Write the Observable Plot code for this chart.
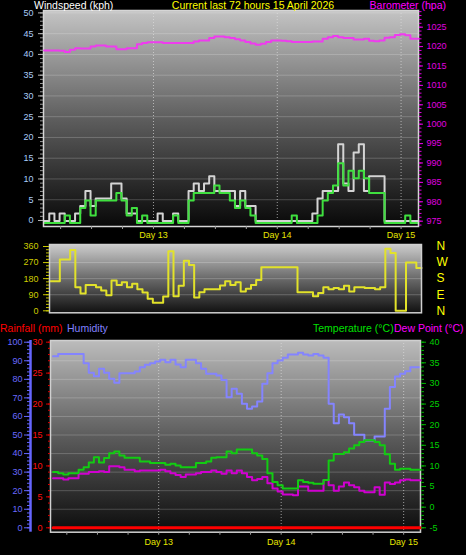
<!DOCTYPE html>
<html><head><meta charset="utf-8">
<script src="https://cdn.jsdelivr.net/npm/d3@7"></script>
<script src="https://cdn.jsdelivr.net/npm/@observablehq/plot@0.6"></script>
<style>
html,body{margin:0;padding:0;background:#000;}
#chart{position:relative;width:466px;height:555px;background:#000;overflow:hidden;font-family:"Liberation Sans",Arial,sans-serif;}
.lbl{position:absolute;white-space:nowrap;font-size:10.5px;line-height:12px;}
</style></head><body><div id="chart"></div>
<script>
// ---------- data ----------
const title = "Current last 72 hours 15 April 2026";
const dayLabels = ["Day 13", "Day 14", "Day 15"];
const dayHours = [21.2, 45.2, 69.2];               // hours since start of the 72 h window
const sixHourTicks = [3.2, 9.2, 15.2, 21.2, 27.2, 33.2, 39.2, 45.2, 51.2, 57.2, 63.2, 69.2];

// wind (kph), hourly samples h0..h72
const windGust = [0,1.8,0,1.8,0,0,1.8,3.6,7.2,3.6, 5.4,5.4,5.4,9,9,5.4,1.8,1.8,0,0,
  0,0,1.8,0,0,1.8,0,0,7.2,9, 7.2,9,10.8,7.2,7.2,7.2,7.2,3.6,7.2,3.6,
  3.6,0,0,0,0,0,0,0,0,0, 0,0,1.8,5.4,7.2,7.2,7.2,18.5,9,7.2,
  16.5,18.5,7.2,10.8,10.8,10.8,0,0,0,0, 0,0,0];
const windAvg = [0,0,0,0,1.8,0,0,3.6,5.4,1.8, 5.4,5.4,5.4,5.4,7.2,5.4,1.8,3.6,0,1.8,
  0,0,0,0,0,1.8,0,0,5.4,7.2, 7.2,7.2,7.2,9,7.2,7.2,5.4,3.6,5.4,3.6,
  1.8,0,0,0,0,0,0,0,1.8,0, 0,0,0,1.8,5.4,7.2,9,14.4,9,12.6,
  10.8,12.6,10.8,7.2,7.2,7.2,0,0,0,0, 1.8,0,0];
// barometer (hPa), hourly h0..h72
const baro = [1019.0,1019.0,1019.0,1018.9,1018.6,1019.2,1019.6,1019.5,1019.5,1020.0,
  1020.3,1020.3,1020.0,1020.0,1019.3,1019.3,1019.6,1019.6,1020.6,1020.9,
  1021.1,1021.1,1021.1,1020.9,1020.9,1020.9,1020.9,1020.9,1020.9,1021.3,
  1021.6,1021.6,1022.2,1022.6,1022.6,1022.4,1022.2,1021.9,1021.6,1021.2,
  1020.8,1020.5,1020.7,1021.2,1021.6,1021.6,1021.5,1021.4,1021.2,1021.2,
  1021.2,1021.2,1021.3,1021.3,1022.0,1022.4,1022.7,1022.4,1022.2,1022.2,
  1021.8,1021.8,1022.0,1021.5,1021.4,1021.6,1022.3,1022.4,1023.0,1023.2,
  1022.9,1022.0,1022.0];
// wind direction (degrees), hourly h0..h71
const windDir = [166,166,287,287,340,132,97,145,145,132, 113,87,170,145,160,132,152,120,103,67,
  45,45,80,333,82,140,280,257,75,104, 120,120,120,142,166,145,160,108,124,145,
  173,244,244,244,244,244,244,244,104,104, 104,82,99,132,121,127,121,140,108,132,
  132,127,127,121,132,347,323,0,0,270, 270,240];
// humidity (%), temperature and dew point (°C), rainfall (mm): samples at h0.5..h71.5
const humidity = [92.5,93.7,93.7,93.7,93.7,93.7,88.7,83.5,81.7,85.7, 83.5,80.3,78.1,83.3,83.3,83.3,84.2,86.5,87.8,88.7,
  89.6,90.5,89.2,90.5,88,86.5,90.5,90.5,88.7,85.7, 83,83,82,79.7,70.4,74.9,72.2,66.8,64.1,65.4,
  68,77.6,83.3,88.7,90.1,91.6,93.4,93.4,94.3,93.4, 92.8,93.7,92.8,91.6,66.8,56.4,61,59.6,56.4,50.1,
  50.1,47,47,49.2,49.2,64.1,75.8,81.5,83,84.4, 86.5,86.5];
const temperature = [8.5,8.2,7.9,8.2,8.2,9.1,9.7,10.8,12.1,10.8, 11.9,13.1,13.5,12.5,12,12,12,11.1,11.1,10.7,
  10.7,10.7,10.3,10.5,10.1,9.7,9.7,9.7,10.7,10.7, 11.1,12,12.1,12.1,13.5,13.1,14,14,14,13.1,
  12.5,11.7,8.2,6.1,5.3,4.5,4.5,4.5,6.5,6.1, 5.9,5.7,5.7,6.6,11.3,12.9,12.9,13.3,14.2,15,
  15.8,16.2,16.2,15.8,15,12.8,10.5,9.1,9.3,9.3, 9.1,9.1];
const dewPoint = [7.0,7.0,6.7,7.0,7.0,8.1,8.1,8.5,8.5,8.7, 8.5,9.9,9.9,9.7,9.1,9.1,8.7,8.9,8.9,8.9,
  8.9,9.1,8.7,8.2,7.8,7.3,7.9,7.9,8.2,8.5, 8.5,8.9,8.5,8.1,8.9,8.2,8.9,8.2,7.3,6.5,
  6.8,7.3,5.8,4.5,3.8,3.1,3.1,2.9,5.0,5.0, 4.0,4.0,4.0,6.6,5.3,4.0,5.0,6.0,5.3,4.8,
  4.0,3.6,3.6,4.8,3.0,6.0,5.6,6.0,6.5,6.7, 6.5,6.5];
const rainfall = [0,0,0,0,0,0,0,0,0,0, 0,0,0,0,0,0,0,0,0,0, 0,0,0,0,0,0,0,0,0,0,
  0,0,0,0,0,0,0,0,0,0, 0,0,0,0,0,0,0,0,0,0, 0,0,0,0,0,0,0,0,0,0, 0,0,0,0,0,0,0,0,0,0, 0,0];

// tick labels
const windTicks = [0,5,10,15,20,25,30,35,40,45,50];
const baroTicks = [975,980,985,990,995,1000,1005,1010,1015,1020,1025];
const dirTicks = [0,90,180,270,360];
const compass = ["N","E","S","W","N"];
const humTicks = [0,10,20,30,40,50,60,70,80,90,100];
const rainTicks = [0,5,10,15,20,25,30];
const tempTicks = [-5,0,5,10,15,20,25,30,35,40];

// ---------- helpers ----------
const FONT = "'Liberation Sans', Arial, sans-serif";
const chart = document.getElementById("chart");
const W = 466;
function base(h, [ml, mr, mt, mb]) {
  return {width: W, height: h, marginLeft: ml, marginRight: mr, marginTop: mt, marginBottom: mb,
    style: {background: "transparent", fontFamily: FONT, fontSize: "9px", overflow: "visible"}};
}
function place(svg, top) {
  svg.style.position = "absolute"; svg.style.left = "0px"; svg.style.top = top + "px";
  chart.appendChild(svg);
}
function gradient(svg, id, stops) {
  const defs = d3.select(svg).insert("defs", ":first-child");
  const g = defs.append("linearGradient").attr("id", id).attr("x1", 0).attr("y1", 0).attr("x2", 0).attr("y2", 1);
  stops.forEach(([o, c]) => g.append("stop").attr("offset", o).attr("stop-color", c));
}
function label(text, {left, right, center, top, color}) {
  const s = document.createElement("span");
  s.className = "lbl"; s.textContent = text; s.style.color = color; s.style.top = top + "px";
  if (left != null) s.style.left = left + "px";
  if (right != null) s.style.right = right + "px";
  if (center != null) { s.style.left = center + "px"; s.style.transform = "translateX(-50%)"; }
  chart.appendChild(s);
}
const none = () => "";
const plain = d => String(d);
const dayFmt = d => dayLabels[dayHours.indexOf(d)];

// ---------- rows ----------
const x1Domain = [-0.12, 72.58];
const windRows = windGust.map((g, i) => ({h: i, gust: g, avg: windAvg[i], hpa: baro[i]}));
windRows.push({h: x1Domain[1], gust: windGust[72], avg: windAvg[72], hpa: baro[72]});
const dirRows = windDir.map((d, i) => ({h: i, deg: d}));
dirRows.push({h: 72, deg: windDir[71]});
const x3Domain = [0, 72.5];
const r3 = humidity.map((v, i) => ({h: i + 0.5, hum: v, temp: temperature[i], dew: dewPoint[i], mm: rainfall[i]}));
r3.push({h: x3Domain[1], hum: humidity[71], temp: temperature[71], dew: dewPoint[71], mm: rainfall[71]});

// ---------- panel 1 : wind + barometer ----------
const p1a = Plot.plot({...base(240, [43, 48, 10, 14]),
  x: {domain: x1Domain, label: null},
  y: {domain: [-1.45, 50.58], label: null},
  marks: [
    Plot.frame({fill: "url(#bg1)"}),
    Plot.ruleY(windTicks.slice(1), {stroke: "#ffffff", strokeOpacity: 0.2}),
    Plot.ruleX(dayHours, {stroke: "#e0e0e0", strokeOpacity: 0.65, strokeDasharray: "1,2"}),
    Plot.line(windRows, {x: "h", y: "gust", curve: "step-after", stroke: "#d4d4d4", strokeWidth: 2, dy: 0.5}),
    Plot.line(windRows, {x: "h", y: "avg", curve: "step-after", stroke: "#3fe03f", strokeWidth: 2, dy: 2.5}),
    Plot.frame({stroke: "#d6d6d6", strokeWidth: 1.5}),
    Plot.axisY(d3.range(0, 51, 1), {anchor: "left", tickSize: 3, stroke: "#9a9a9a", tickFormat: none, label: null}),
    Plot.axisY(windTicks, {anchor: "left", tickSize: 5, stroke: "#b4b4b4", fill: "#a8ccf8", tickPadding: 5, fontSize: 9, tickFormat: plain, label: null}),
    Plot.axisX(sixHourTicks, {anchor: "bottom", tickSize: 3, stroke: "#a0a0a0", tickFormat: none, label: null}),
    Plot.axisX(dayHours, {anchor: "bottom", tickSize: 0, tickPadding: 5, fill: "#e6e600", tickFormat: dayFmt, fontSize: 9, label: null})
  ]});
gradient(p1a, "bg1", [[0, "#c4c4c4"], [0.5, "#5e5e5e"], [1, "#080808"]]);
place(p1a, 0);

const p1b = Plot.plot({...base(240, [43, 48, 10, 14]),
  x: {domain: x1Domain, axis: null},
  y: {domain: [973.63, 1029.3], label: null},
  marks: [
    Plot.line(windRows, {x: "h", y: "hpa", curve: "step-after", stroke: "#ee3cee", strokeWidth: 2}),
    Plot.axisY(d3.range(974, 1030, 1), {anchor: "right", tickSize: 2.5, stroke: "#e000e0", tickFormat: none, label: null}),
    Plot.axisY(baroTicks, {anchor: "right", tickSize: 4, stroke: "#e000e0", fill: "#e000e0", tickPadding: 4, fontSize: 9, tickFormat: plain, label: null})
  ]});
place(p1b, 0);

// ---------- panel 2 : wind direction ----------
const p2 = Plot.plot({...base(84, [49, 45, 8, 7.7]),
  x: {domain: [0, 72], axis: null},
  y: {domain: [-11.2, 371.2], label: null},
  marks: [
    Plot.frame({fill: "url(#bg2)"}),
    Plot.ruleY([90, 180, 270], {stroke: "#ffffff", strokeOpacity: 0.22}),
    Plot.line(dirRows, {x: "h", y: "deg", curve: "step-after", stroke: "#e2e22a", strokeWidth: 2}),
    Plot.frame({stroke: "#d0d0d0", strokeWidth: 1.5}),
    Plot.axisY(d3.range(0, 361, 18), {anchor: "left", tickSize: 3, stroke: "#c8c800", tickFormat: none, label: null}),
    Plot.axisY(dirTicks, {anchor: "left", tickSize: 6, stroke: "#c8c800", fill: "#cccc00", tickPadding: 5, fontSize: 9, tickFormat: plain, label: null}),
    Plot.axisY(dirTicks, {anchor: "right", tickSize: 0, tickPadding: 15, fill: "#ffff00", fontSize: 12, tickFormat: d => compass[dirTicks.indexOf(d)], label: null})
  ]});
gradient(p2, "bg2", [[0, "#cccccc"], [0.5, "#6a6a6a"], [1, "#101010"]]);
place(p2, 236);

// ---------- panel 3 : humidity, rainfall, temperature, dew point ----------
const m3 = [50, 46, 20, 23.3];
const humDomain = [-2.37, 100.92];
const p3a = Plot.plot({...base(235, m3),
  x: {domain: x3Domain, label: null},
  y: {domain: humDomain, axis: null},
  marks: [
    Plot.frame({fill: "url(#bg3)"}),
    Plot.ruleY(humTicks.slice(1, -1), {stroke: "#ffffff", strokeOpacity: 0.2}),
    Plot.ruleX(dayHours, {stroke: "#e0e0e0", strokeOpacity: 0.65, strokeDasharray: "1,2"}),
    Plot.line(r3, {x: "h", y: "hum", curve: "step-after", stroke: "#8484ff", strokeWidth: 2}),
    Plot.frame({stroke: "#d0d0d0", strokeWidth: 1.5}),
    Plot.axisX(sixHourTicks, {anchor: "bottom", tickSize: 3, stroke: "#a0a0a0", tickFormat: none, label: null}),
    Plot.axisX(dayHours, {anchor: "bottom", tickSize: 0, tickPadding: 6, fill: "#e6e600", tickFormat: dayFmt, fontSize: 9, label: null})
  ]});
gradient(p3a, "bg3", [[0, "#bcbcbc"], [0.5, "#5c5c5c"], [1, "#0c0c0c"]]);
place(p3a, 320);

// humidity axis (separate, offset to the left)
const p3h = Plot.plot({...base(235, [30, W - 50, 20, 23.3]),
  x: {domain: [0, 1], axis: null},
  y: {domain: humDomain, label: null},
  marks: [
    Plot.ruleX([0], {stroke: "#6666ff", strokeWidth: 2.5}),
    Plot.axisY(d3.range(0, 101, 2), {anchor: "left", tickSize: 3, stroke: "#6666ff", tickFormat: none, label: null}),
    Plot.axisY(humTicks, {anchor: "left", tickSize: 6, stroke: "#6666ff", fill: "#6a6aff", tickPadding: 2, fontSize: 9, tickFormat: plain, label: null})
  ]});
place(p3h, 320);

const p3b = Plot.plot({...base(235, m3),
  x: {domain: x3Domain, axis: null},
  y: {domain: [-0.71, 30.27], label: null},
  marks: [
    Plot.line(r3, {x: "h", y: "mm", stroke: "#ff0000", strokeWidth: 3}),
    Plot.axisY(d3.range(0, 31, 1), {anchor: "left", tickSize: 2, stroke: "#dd0000", tickFormat: none, label: null}),
    Plot.axisY(rainTicks, {anchor: "left", tickSize: 4, stroke: "#dd0000", fill: "#ff1010", tickPadding: 4, fontSize: 9, tickFormat: plain, label: null})
  ]});
place(p3b, 320);

const p3c = Plot.plot({...base(235, m3),
  x: {domain: x3Domain, axis: null},
  y: {domain: [-6.07, 40.41], label: null},
  marks: [
    Plot.line(r3, {x: "h", y: "dew", curve: "step-after", stroke: "#d000d0", strokeWidth: 2}),
    Plot.line(r3, {x: "h", y: "temp", curve: "step-after", stroke: "#12cc12", strokeWidth: 2}),
    Plot.axisY(d3.range(-5, 41, 1), {anchor: "right", tickSize: 3, stroke: "#00b000", tickFormat: none, label: null}),
    Plot.axisY(tempTicks, {anchor: "right", tickSize: 5, stroke: "#00b000", fill: "#00d000", tickPadding: 4, fontSize: 9, tickFormat: plain, label: null})
  ]});
place(p3c, 320);

// ---------- titles / legends ----------
label("Windspeed (kph)", {left: 34, top: -1, color: "#ffffff"});
label(title, {center: 253, top: -1, color: "#ffff00"});
label("Barometer (hpa)", {right: 20, top: -1, color: "#ff00ff"});
label("Rainfall (mm)", {left: 0, top: 321.5, color: "#ff0000"});
label("Humidity", {left: 67, top: 321.5, color: "#8080ff"});
label("Temperature (°C)", {left: 313, top: 321.5, color: "#00e000"});
label("Dew Point (°C)", {left: 394, top: 321.5, color: "#ff00ff"});
</script></body></html>
